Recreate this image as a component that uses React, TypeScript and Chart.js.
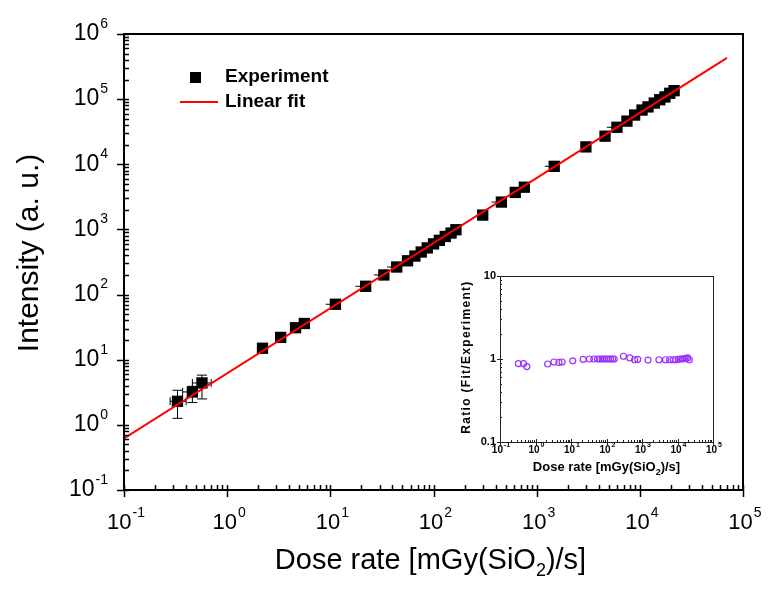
import React, { useEffect, useRef } from "react";
import { Chart, registerables } from "chart.js";

Chart.register(...registerables);

const FONT = '"Liberation Sans", Arial, Helvetica, sans-serif';

// ---------- Main plot data ----------
const doseRate = [0.33, 0.46, 0.57, 2.2, 3.3, 4.6, 5.6, 11.2, 22, 33, 44, 56, 66, 76, 87, 100, 114, 130, 148, 165, 300, 455, 620, 760, 1480, 3000, 4600, 6000, 7500, 8900, 10500, 12000, 13800, 15600, 17500, 19500, 21500];
const intensity = [2.3, 3.2, 4.4, 15, 22, 31, 36, 71, 134, 200, 265, 330, 390, 450, 520, 600, 680, 780, 880, 990, 1660, 2630, 3700, 4450, 9300, 18500, 27000, 37000, 46000, 57000, 68000, 76000, 87000, 98000, 108000, 123000, 135000];
const xErrLow: (number | null)[] = [0.28, 0.37, 0.46, null, null, null, null, 9.0, 17.5, 26.5, 35.5, null, null, null, null, null, null, null, null, null, null, 365, null, null, 1200, null, null, 4800, null, null, null, null, null, null, null, null, null];
const xErrHigh: (number | null)[] = [0.40, 0.50, 0.70, null, null, null, null, null, null, null, null, null, null, null, null, null, null, null, null, null, null, null, null, null, null, null, null, null, null, null, null, null, null, null, null, null, null];
const yErrLow: (number | null)[] = [1.26, 2.2, 2.5, null, null, null, null, null, null, null, null, null, null, null, null, null, null, null, null, null, null, null, null, null, null, null, null, null, null, null, null, null, null, null, null, null, null];
const yErrHigh: (number | null)[] = [3.4, 3.9, 5.8, null, null, null, null, null, null, null, null, null, null, null, null, null, null, null, null, null, null, null, null, null, null, null, null, null, null, null, null, null, null, null, null, null, null];

// Linear fit (straight line on log-log axes), end points
const fitX = [0.1, 70000];
const fitY = [0.62, 430000];

// ---------- Inset data ----------
const ratio = [0.88, 0.88, 0.81, 0.87, 0.92, 0.91, 0.92, 0.95, 0.99, 1.0, 1.0, 1.0, 1.0, 1.0, 1.0, 1.0, 1.0, 1.0, 1.0, 1.0, 1.08, 1.03, 0.98, 0.99, 0.97, 0.98, 0.98, 0.98, 0.98, 0.98, 0.99, 1.0, 1.0, 1.01, 1.02, 1.03, 0.98];

// ---------- Tick labels ----------
const mainXExps = [-1, 0, 1, 2, 3, 4, 5];
const mainYExps = [-1, 0, 1, 2, 3, 4, 5, 6];
const insetXExps = [-1, 0, 1, 2, 3, 4, 5];
const insetYTicks = [0.1, 1, 10];
const insetYLabels = ["0.1", "1", "10"];

const xTitleParts = ["Dose rate [mGy(SiO", "2", ")/s]"];
const yTitle = "Intensity (a. u.)";
const insetYTitle = "Ratio (Fit/Experiment)";
const legendLabels = ["Experiment", "Linear fit"];

function logMinors(minExp: number, maxExp: number) {
  const out: number[] = [];
  for (let e = minExp; e < maxExp; e++) {
    for (let k = 2; k <= 9; k++) out.push(k * Math.pow(10, e));
  }
  return out;
}

function drawPow(ctx: CanvasRenderingContext2D, exp: number, x: number, y: number, size: number, supSize: number, bold: boolean, align: "center" | "right", supRaise: number) {
  const b = bold ? "bold " : "";
  const base = "10";
  const sup = String(exp);
  ctx.font = `${b}${size}px ${FONT}`;
  const wb = ctx.measureText(base).width;
  ctx.font = `${b}${supSize}px ${FONT}`;
  const ws = ctx.measureText(sup).width;
  const total = wb + ws + 1;
  const x0 = align === "center" ? x - total / 2 : x - total;
  ctx.textAlign = "left";
  ctx.textBaseline = "middle";
  ctx.font = `${b}${size}px ${FONT}`;
  ctx.fillText(base, x0, y);
  ctx.font = `${b}${supSize}px ${FONT}`;
  ctx.fillText(sup, x0 + wb + 1, y - supRaise);
}

function drawSubTitle(ctx: CanvasRenderingContext2D, parts: string[], cx: number, baseline: number, size: number, subSize: number, subDrop: number, bold: boolean) {
  const b = bold ? "bold " : "";
  const fonts = [`${b}${size}px ${FONT}`, `${b}${subSize}px ${FONT}`, `${b}${size}px ${FONT}`];
  const widths = parts.map((p, i) => {
    ctx.font = fonts[i];
    return ctx.measureText(p).width;
  });
  const total = widths.reduce((a, c) => a + c, 0);
  let x = cx - total / 2;
  ctx.textAlign = "left";
  ctx.textBaseline = "alphabetic";
  parts.forEach((p, i) => {
    ctx.font = fonts[i];
    ctx.fillText(p, x, baseline + (i === 1 ? subDrop : 0));
    x += widths[i];
  });
}

const mainDecor = {
  id: "mainDecor",
  beforeDatasetsDraw(chart: any) {
    const ctx: CanvasRenderingContext2D = chart.ctx;
    const xs = chart.scales.x;
    const ys = chart.scales.y;
    ctx.save();
    ctx.strokeStyle = "#000";
    ctx.lineWidth = 1;
    doseRate.forEach((x, i) => {
      const px = xs.getPixelForValue(x);
      const py = ys.getPixelForValue(intensity[i]);
      const xl = xErrLow[i];
      const xh = xErrHigh[i];
      const yl = yErrLow[i];
      const yh = yErrHigh[i];
      ctx.beginPath();
      if (xl != null) {
        const p = xs.getPixelForValue(xl);
        ctx.moveTo(px, py);
        ctx.lineTo(p, py);
        if (xh != null) {
          ctx.moveTo(p, py - 4);
          ctx.lineTo(p, py + 4);
        }
      }
      if (xh != null) {
        const p = xs.getPixelForValue(xh);
        ctx.moveTo(px, py);
        ctx.lineTo(p, py);
        ctx.moveTo(p, py - 4);
        ctx.lineTo(p, py + 4);
      }
      if (yl != null) {
        const p = ys.getPixelForValue(yl);
        ctx.moveTo(px, py);
        ctx.lineTo(px, p);
        ctx.moveTo(px - 5, p);
        ctx.lineTo(px + 5, p);
      }
      if (yh != null) {
        const p = ys.getPixelForValue(yh);
        ctx.moveTo(px, py);
        ctx.lineTo(px, p);
        ctx.moveTo(px - 5, p);
        ctx.lineTo(px + 5, p);
      }
      ctx.stroke();
    });
    ctx.restore();
  },
  afterDatasetsDraw(chart: any) {
    const ctx: CanvasRenderingContext2D = chart.ctx;
    const a = chart.chartArea;
    const xs = chart.scales.x;
    const ys = chart.scales.y;
    ctx.save();
    // frame
    ctx.strokeStyle = "#000";
    ctx.lineWidth = 2;
    ctx.strokeRect(a.left, a.top, a.right - a.left, a.bottom - a.top);
    // ticks
    ctx.lineWidth = 1.5;
    ctx.beginPath();
    mainXExps.forEach((e) => {
      const p = Math.round(xs.getPixelForValue(Math.pow(10, e))) + 0.5;
      ctx.moveTo(p, a.bottom - 5);
      ctx.lineTo(p, a.bottom + 7);
    });
    logMinors(-1, 5).forEach((v) => {
      const p = Math.round(xs.getPixelForValue(v)) + 0.5;
      ctx.moveTo(p, a.bottom);
      ctx.lineTo(p, a.bottom - 5);
    });
    mainYExps.forEach((e) => {
      const p = Math.round(ys.getPixelForValue(Math.pow(10, e))) + 0.5;
      ctx.moveTo(a.left - 7, p);
      ctx.lineTo(a.left + 5, p);
    });
    logMinors(-1, 6).forEach((v) => {
      const p = Math.round(ys.getPixelForValue(v)) + 0.5;
      ctx.moveTo(a.left, p);
      ctx.lineTo(a.left + 5, p);
    });
    ctx.stroke();

    // tick labels
    ctx.fillStyle = "#000";
    mainXExps.forEach((e) => {
      drawPow(ctx, e, xs.getPixelForValue(Math.pow(10, e)) + 2, a.bottom + 33, 22, 14, false, "center", 10);
    });
    mainYExps.forEach((e) => {
      drawPow(ctx, e, a.left - 16, ys.getPixelForValue(Math.pow(10, e)), 23, 14, false, "right", 10);
    });

    // axis titles
    drawSubTitle(ctx, xTitleParts, (a.left + a.right) / 2 - 3, 569, 29, 18, 7, false);
    ctx.save();
    ctx.translate(30, 253);
    ctx.rotate(-Math.PI / 2);
    ctx.font = `30px ${FONT}`;
    ctx.textAlign = "center";
    ctx.textBaseline = "middle";
    ctx.fillText(yTitle, 0, 0);
    ctx.restore();

    // legend
    ctx.fillStyle = "#000";
    ctx.fillRect(190, 72, 11, 11);
    ctx.strokeStyle = "#ff0000";
    ctx.lineWidth = 2;
    ctx.beginPath();
    ctx.moveTo(180, 102);
    ctx.lineTo(218, 102);
    ctx.stroke();
    ctx.font = `bold 19px ${FONT}`;
    ctx.textAlign = "left";
    ctx.textBaseline = "middle";
    ctx.fillText(legendLabels[0], 225, 77);
    ctx.fillText(legendLabels[1], 225, 102);
    ctx.restore();
  },
};

const insetDecor = {
  id: "insetDecor",
  afterDatasetsDraw(chart: any) {
    const ctx: CanvasRenderingContext2D = chart.ctx;
    const a = chart.chartArea;
    const xs = chart.scales.x;
    const ys = chart.scales.y;
    ctx.save();
    ctx.strokeStyle = "#222";
    ctx.lineWidth = 1;
    ctx.strokeRect(Math.round(a.left) + 0.5, Math.round(a.top) + 0.5, Math.round(a.right - a.left), Math.round(a.bottom - a.top));
    ctx.beginPath();
    insetXExps.forEach((e) => {
      const p = Math.round(xs.getPixelForValue(Math.pow(10, e))) + 0.5;
      ctx.moveTo(p, a.bottom - 3);
      ctx.lineTo(p, a.bottom + 3);
    });
    logMinors(-1, 5).forEach((v) => {
      const p = Math.round(xs.getPixelForValue(v)) + 0.5;
      ctx.moveTo(p, a.bottom);
      ctx.lineTo(p, a.bottom - 2);
    });
    insetYTicks.forEach((v) => {
      const p = Math.round(ys.getPixelForValue(v)) + 0.5;
      ctx.moveTo(a.left - 3, p);
      ctx.lineTo(a.left + 3, p);
    });
    logMinors(-1, 1).forEach((v) => {
      const p = Math.round(ys.getPixelForValue(v)) + 0.5;
      ctx.moveTo(a.left, p);
      ctx.lineTo(a.left + 2, p);
    });
    ctx.stroke();

    ctx.fillStyle = "#000";
    insetXExps.forEach((e) => {
      drawPow(ctx, e, xs.getPixelForValue(Math.pow(10, e)) + 1, a.bottom + 8, 10, 7, true, "center", 5);
    });
    ctx.font = `bold 11px ${FONT}`;
    ctx.textAlign = "right";
    ctx.textBaseline = "middle";
    insetYTicks.forEach((v, i) => {
      ctx.fillText(insetYLabels[i], a.left - 4, ys.getPixelForValue(v));
    });
    drawSubTitle(ctx, xTitleParts, (a.left + a.right) / 2, a.bottom + 29, 13, 9, 4, true);
    ctx.save();
    ctx.translate(a.left - 33, (a.top + a.bottom) / 2 - 2);
    ctx.rotate(-Math.PI / 2);
    ctx.font = `bold 12px ${FONT}`;
    (ctx as any).letterSpacing = "1.3px";
    ctx.textAlign = "center";
    ctx.textBaseline = "middle";
    ctx.fillText(insetYTitle, 0, 0);
    ctx.restore();
    ctx.restore();
  },
};

export default function App() {
  const mainRef = useRef<HTMLCanvasElement | null>(null);
  const insetRef = useRef<HTMLCanvasElement | null>(null);

  useEffect(() => {
    if (!mainRef.current || !insetRef.current) return;
    const main = new Chart(mainRef.current, {
      type: "scatter",
      data: {
        datasets: [
          {
            label: legendLabels[1],
            type: "line",
            data: fitX.map((x, i) => ({ x, y: fitY[i] })),
            borderColor: "#ff0000",
            borderWidth: 2,
            pointRadius: 0,
            showLine: true,
            fill: false,
            order: 0,
          } as any,
          {
            label: legendLabels[0],
            data: doseRate.map((x, i) => ({ x, y: intensity[i] })),
            pointStyle: "rect",
            pointRadius: 8,
            backgroundColor: "#000",
            borderColor: "#000",
            borderWidth: 0,
            order: 1,
          },
        ],
      },
      options: {
        responsive: false,
        animation: false,
        events: [],
        layout: { padding: { top: 34, right: 32, left: 0, bottom: 0 } },
        plugins: { legend: { display: false }, tooltip: { enabled: false } },
        scales: {
          x: {
            type: "logarithmic",
            min: 0.1,
            max: 1e5,
            ticks: { display: false },
            grid: { display: false },
            border: { display: false },
            afterFit: (s: any) => {
              s.height = 99;
            },
          },
          y: {
            type: "logarithmic",
            min: 0.1,
            max: 1e6,
            ticks: { display: false },
            grid: { display: false },
            border: { display: false },
            afterFit: (s: any) => {
              s.width = 124;
            },
          },
        },
      } as any,
      plugins: [mainDecor],
    });

    const inset = new Chart(insetRef.current, {
      type: "scatter",
      data: {
        datasets: [
          {
            label: "Ratio",
            data: doseRate.map((x, i) => ({ x, y: ratio[i] })),
            pointStyle: "circle",
            pointRadius: 3,
            borderWidth: 1.2,
            borderColor: "#9b30ff",
            backgroundColor: "rgba(0,0,0,0)",
          },
        ],
      },
      options: {
        responsive: false,
        animation: false,
        events: [],
        layout: { padding: { top: 26, right: 47, left: 0, bottom: 0 } },
        plugins: { legend: { display: false }, tooltip: { enabled: false } },
        scales: {
          x: {
            type: "logarithmic",
            min: 0.1,
            max: 1e5,
            ticks: { display: false },
            grid: { display: false },
            border: { display: false },
            afterFit: (s: any) => {
              s.height = 43;
            },
          },
          y: {
            type: "logarithmic",
            min: 0.1,
            max: 10,
            ticks: { display: false },
            grid: { display: false },
            border: { display: false },
            afterFit: (s: any) => {
              s.width = 70;
            },
          },
        },
      } as any,
      plugins: [insetDecor],
    });

    return () => {
      main.destroy();
      inset.destroy();
    };
  }, []);

  return (
    <div style={{ position: "fixed", left: 0, top: 0, width: 775, height: 589, background: "#fff" }}>
      <canvas ref={mainRef} width={775} height={589} style={{ position: "absolute", left: 0, top: 0 }} />
      <canvas ref={insetRef} width={330} height={235} style={{ position: "absolute", left: 430, top: 250 }} />
    </div>
  );
}
